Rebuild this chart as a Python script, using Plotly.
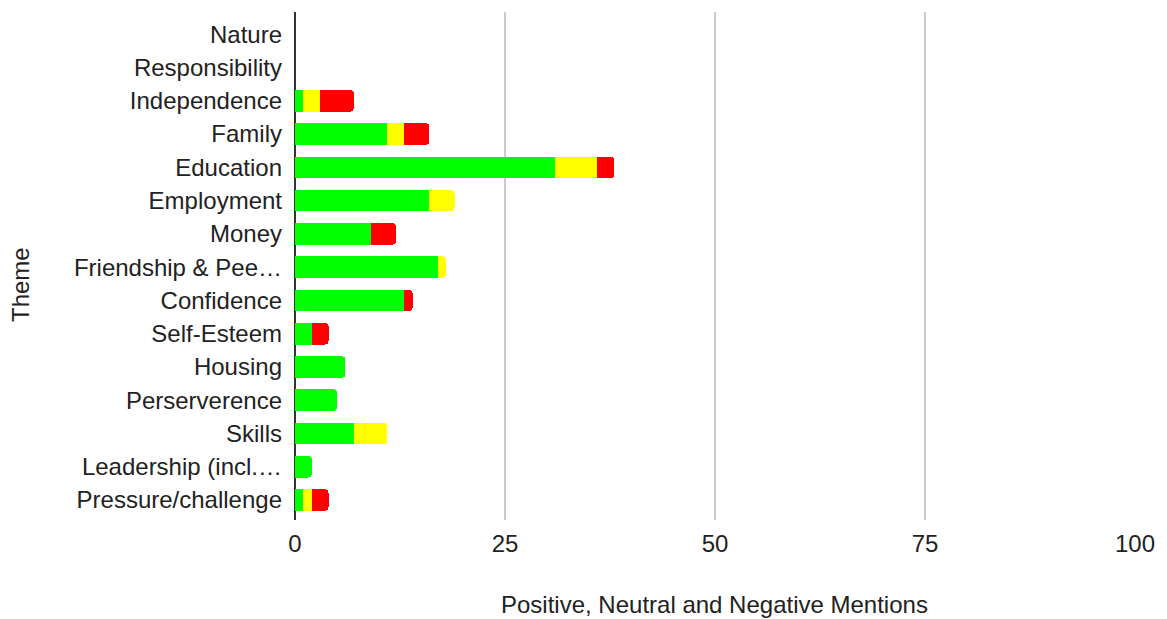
import plotly.graph_objects as go

# Themes, in the order they appear from top to bottom
themes = [
    "Nature", "Responsibility", "Independence", "Family", "Education",
    "Employment", "Money", "Friendship & Pee…", "Confidence", "Self-Esteem",
    "Housing", "Perserverence", "Skills", "Leadership (incl.…", "Pressure/challenge",
]
positive = [0, 0, 1, 11, 31, 16, 9, 17, 13, 2, 6, 5, 7, 2, 1]
neutral = [0, 0, 2, 2, 5, 3, 0, 1, 0, 0, 0, 0, 4, 0, 1]
negative = [0, 0, 4, 3, 2, 0, 3, 0, 1, 2, 0, 0, 0, 0, 2]

x_ticks = [0, 25, 50, 75, 100]

FONT = "Liberation Sans, Arial, sans-serif"
TEXT = "#222222"

fig = go.Figure()
for name, vals, color in [
    ("Positive", positive, "#00ff00"),
    ("Neutral", neutral, "#ffff00"),
    ("Negative", negative, "#ff0000"),
]:
    fig.add_trace(go.Bar(
        y=list(range(len(themes))), x=vals, orientation="h", name=name,
        marker=dict(color=color, line=dict(width=0)),
        hovertext=themes,
    ))

W, H = 1167, 619
L, R, T, B = 295, 29, 12, 99

fig.update_layout(
    width=W, height=H,
    margin=dict(l=L, r=R, t=T, b=B),
    barmode="stack", bargap=0.35, barcornerradius=4,
    showlegend=False,
    plot_bgcolor="white", paper_bgcolor="white",
    font=dict(family=FONT, size=24, color=TEXT),
    xaxis=dict(
        range=[0, 100], tickvals=x_ticks, ticktext=[str(v) for v in x_ticks],
        showgrid=True, gridcolor="#cccccc", gridwidth=2,
        zeroline=True, zerolinecolor="#333333", zerolinewidth=2,
        showline=False, ticks="", ticklabelstandoff=7,
        tickfont=dict(family=FONT, size=24, color=TEXT),
        fixedrange=True,
    ),
    yaxis=dict(
        range=[14.6, -0.67],
        tickvals=list(range(len(themes))), ticktext=themes,
        showgrid=False, zeroline=False, showline=False, ticks="",
        ticklabelstandoff=12,
        tickfont=dict(family=FONT, size=24, color=TEXT),
        fixedrange=True,
    ),
)

pw = W - L - R
ph = H - T - B

def px_to_paper(xp, yp):
    return (xp - L) / pw, 1 - (yp - T) / ph

ax, ay = px_to_paper(716, 604)
fig.add_annotation(
    x=ax, y=ay, xref="paper", yref="paper", showarrow=False,
    text="Positive, Neutral and Negative Mentions",
    font=dict(family=FONT, size=24, color=TEXT),
    xanchor="center", yanchor="middle",
)
tx, ty = px_to_paper(19, 284)
fig.add_annotation(
    x=tx, y=ty, xref="paper", yref="paper", showarrow=False,
    text="Theme", textangle=-90,
    font=dict(family=FONT, size=24, color=TEXT),
    xanchor="center", yanchor="middle",
)

fig.write_html("out.html")
